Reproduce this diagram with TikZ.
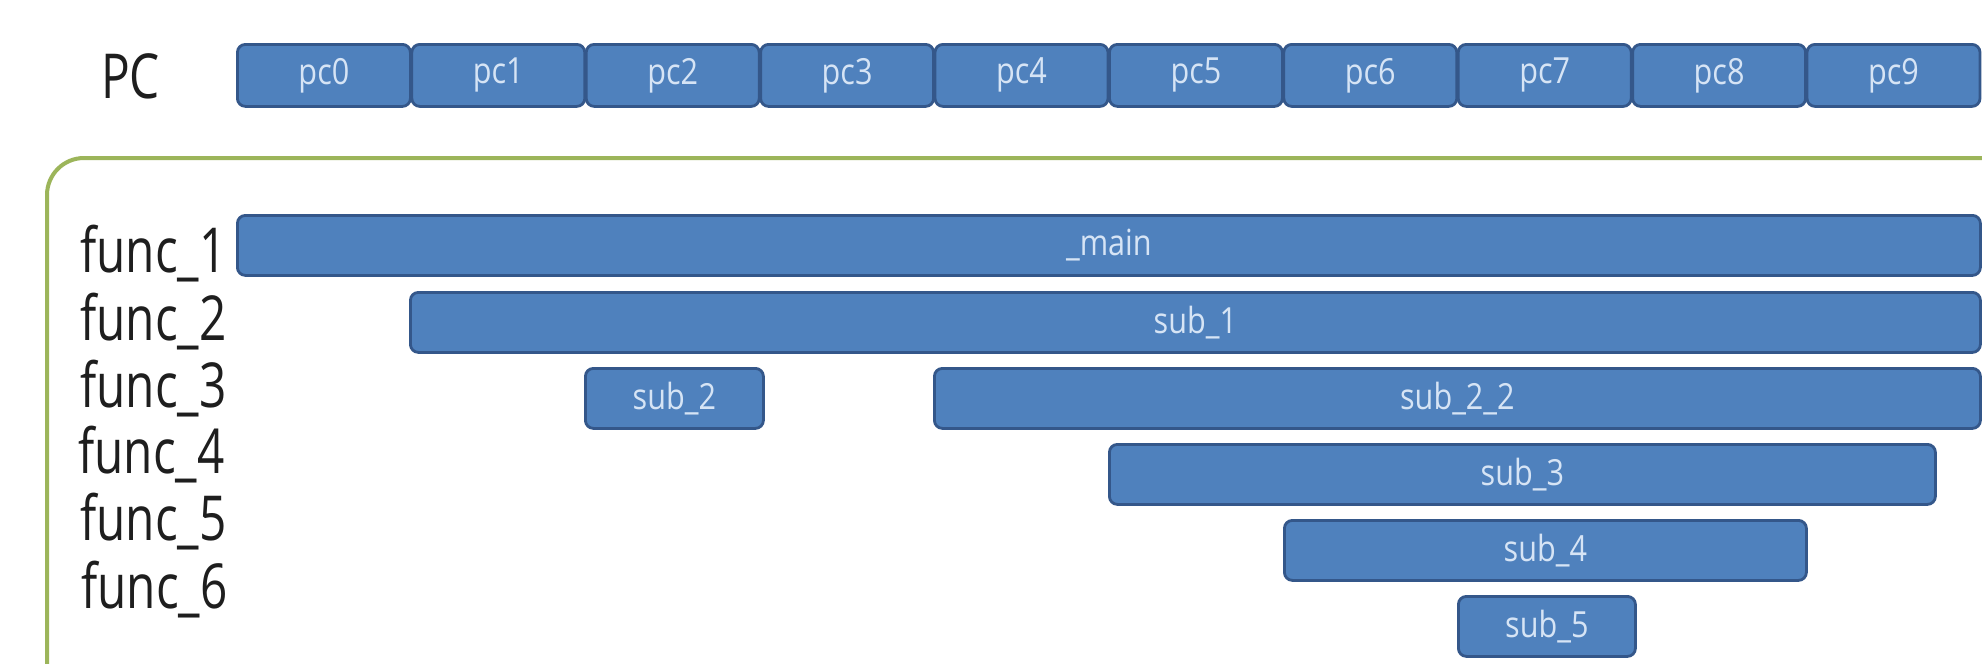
\documentclass[tikz,border=0pt]{standalone}
\usepackage{fontspec}
\usepackage{graphicx}
\setmainfont{Open Sans}

\definecolor{barfill}{HTML}{4F81BD}
\definecolor{barline}{HTML}{34578A}
\definecolor{bartxt}{HTML}{D6E4F5}
\definecolor{framegreen}{HTML}{9CB55A}
\definecolor{ink}{HTML}{1E1E1E}

% text inside the blue bars and the row names on the left
\newcommand{\bartext}[1]{\scalebox{0.85}[1]{\fontsize{36}{40}\selectfont #1}}
\newcommand{\rowlabel}[1]{\scalebox{0.77}[1]{\fontsize{62}{70}\selectfont #1}}

\tikzset{
  bar/.style={draw=barline, line width=2.8pt, fill=barfill, rounded corners=8pt,
              text=bartxt, minimum height=60pt, inner sep=0pt, anchor=north west},
  pcbox/.style={bar, minimum width=173pt, minimum height=62pt},
  rowname/.style={text=ink, anchor=base west, inner sep=0pt},
}

\begin{document}
\begin{tikzpicture}[x=1pt, y=-1pt]
  \clip (0,0) rectangle (1982,664);
  \fill[white] (0,0) rectangle (1982,664);

  % program counter strip
  \node[rowname] (pclabel) at (101,98) {\rowlabel{PC}};
  \foreach \i in {0,...,9}
    \node[pcbox] (pc\i) at ({236+174.4*\i},43) {\bartext{pc\i}};

  % frame around the call stack rows
  \draw[framegreen, line width=4pt, rounded corners=37pt]
    (47,720) -- (47,158) -- (2050,158);

  % row names
  \node[rowname] (f1) at (80,272) {\rowlabel{func\_1}};
  \node[rowname] (f2) at (80,340) {\rowlabel{func\_2}};
  \node[rowname] (f3) at (80,407) {\rowlabel{func\_3}};
  \node[rowname] (f4) at (78,473) {\rowlabel{func\_4}};
  \node[rowname] (f5) at (80,540) {\rowlabel{func\_5}};
  \node[rowname] (f6) at (81,608) {\rowlabel{func\_6}};

  % active function spans
  \node[bar, minimum width=1743pt] (main)  at (236,214)  {\bartext{\_main}};
  \node[bar, minimum width=1570pt] (sub1)  at (409,291)  {\bartext{sub\_1}};
  \node[bar, minimum width=178pt]  (sub2)  at (584,367)  {\bartext{sub\_2}};
  \node[bar, minimum width=1046pt] (sub22) at (933,367)  {\bartext{sub\_2\_2}};
  \node[bar, minimum width=826pt]  (sub3)  at (1108,443) {\bartext{sub\_3}};
  \node[bar, minimum width=522pt]  (sub4)  at (1283,519) {\bartext{sub\_4}};
  \node[bar, minimum width=177pt]  (sub5)  at (1457,595) {\bartext{sub\_5}};
\end{tikzpicture}
\end{document}
